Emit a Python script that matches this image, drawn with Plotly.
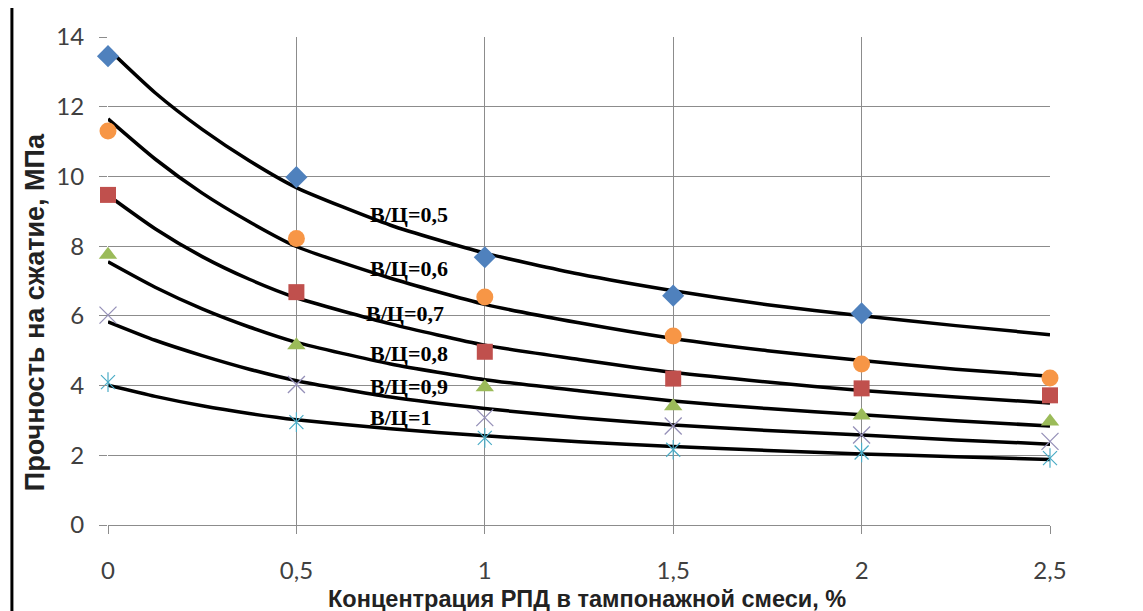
import plotly.graph_objects as go

# ---------------- data ----------------
x_pts = [0, 0.5, 1, 1.5, 2, 2.5]
tick_vals = [0, 0.5, 1, 1.5, 2, 2.5]
tick_text = ["0", "0,5", "1", "1,5", "2", "2,5"]
y_tick_vals = [0, 2, 4, 6, 8, 10, 12, 14]

wc_labels = ["В/Ц=0,5", "В/Ц=0,6", "В/Ц=0,7", "В/Ц=0,8", "В/Ц=0,9", "В/Ц=1"]

# measured points
pts_05 = [13.45, 9.98, 7.68, 6.58, 6.07, None]
pts_06 = [11.3, 8.22, 6.54, 5.42, 4.62, 4.22]
pts_07 = [9.47, 6.68, 4.97, 4.2, 3.92, 3.72]
pts_08 = [7.75, 5.16, 3.95, 3.41, 3.14, 2.97]
pts_09 = [6.02, 4.03, 3.08, 2.84, 2.58, 2.40]
pts_10 = [4.1, 2.95, 2.5, 2.16, 2.08, 1.92]

# trend curves
x_curve = [0, 0.125, 0.25, 0.375, 0.5, 0.75, 1, 1.25, 1.5, 1.75, 2, 2.25, 2.5]
cur_05 = [13.66, 12.4, 11.35, 10.45, 9.68, 8.6, 7.8, 7.2, 6.72, 6.32, 6.0, 5.72, 5.46]
cur_06 = [11.65, 10.5, 9.52, 8.7, 7.99, 7.08, 6.33, 5.8, 5.35, 5.0, 4.72, 4.47, 4.27]
cur_07 = [9.46, 8.5, 7.7, 7.05, 6.52, 5.77, 5.16, 4.75, 4.38, 4.1, 3.86, 3.67, 3.5]
cur_08 = [7.55, 6.82, 6.2, 5.68, 5.24, 4.62, 4.17, 3.85, 3.56, 3.34, 3.16, 2.99, 2.84]
cur_09 = [5.83, 5.3, 4.86, 4.47, 4.14, 3.67, 3.34, 3.08, 2.87, 2.71, 2.58, 2.44, 2.32]
cur_10 = [4.01, 3.69, 3.42, 3.2, 3.02, 2.76, 2.56, 2.39, 2.25, 2.14, 2.04, 1.96, 1.88]

# label anchor positions (x, y in data units)
label_x = [0.69, 0.69, 0.68, 0.69, 0.69, 0.69]
label_y = [8.91, 7.36, 6.08, 4.93, 3.98, 3.07]

# ---------------- figure ----------------
fig = go.Figure()

curves = [cur_05, cur_06, cur_07, cur_08, cur_09, cur_10]
for c in curves:
    fig.add_trace(go.Scatter(x=x_curve, y=c, mode="lines",
                             line=dict(color="black", width=3.5, shape="spline", smoothing=0.6),
                             hoverinfo="skip", showlegend=False, cliponaxis=False))

def mk(y, symbol, color, size, lw=0, lc=None):
    m = dict(symbol=symbol, color=color, size=size)
    m["line"] = dict(width=lw, color=lc if lc else color)
    fig.add_trace(go.Scatter(x=x_pts, y=y, mode="markers", marker=m,
                             showlegend=False, cliponaxis=False))

mk(pts_05, "diamond", "#4F81BD", 17)
mk(pts_06, "circle", "#F79646", 17)
mk(pts_07, "square", "#C0504D", 16)
mk(pts_08, "triangle-up", "#9BBB59", 16)
mk(pts_09, "x-thin-open", "#9590B8", 17, lw=1.3)
mk(pts_10, "x-thin-open", "#4BACC6", 14, lw=1.2)
mk(pts_10, "line-ns-open", "#4BACC6", 14, lw=1.2)

for txt, lx, ly in zip(wc_labels, label_x, label_y):
    fig.add_annotation(x=lx, y=ly, text="<b>" + txt + "</b>", showarrow=False,
                       xanchor="left", yanchor="middle",
                       font=dict(family="Liberation Serif", size=22, color="black"))

fig.add_annotation(x=0.509, y=-0.152, xref="paper", yref="paper", showarrow=False,
                   xanchor="center", yanchor="middle",
                   text="<b>Концентрация РПД в тампонажной смеси, %</b>",
                   font=dict(family="Liberation Sans", size=23.5, color="#222222"))
fig.add_annotation(x=-0.0775, y=0.436, xref="paper", yref="paper", showarrow=False, textangle=-90,
                   xanchor="center", yanchor="middle",
                   text="<b>Прочность на сжатие, МПа</b>",
                   font=dict(family="Liberation Sans", size=27, color="#222222"))

# left black border line of the original scan
fig.add_shape(type="line", xref="paper", yref="paper", x0=-0.102, x1=-0.102, y0=1.06, y1=-0.2,
              line=dict(color="black", width=3))

fig.update_xaxes(range=[0, 2.5], tickvals=tick_vals, ticktext=tick_text,
                 showgrid=True, gridcolor="#8C8C8C", gridwidth=1,
                 ticks="outside", ticklen=8, tickcolor="#8C8C8C",
                 showline=False, zeroline=False, ticklabelstandoff=16,
                 tickfont=dict(family="Lato", size=24, color="#404040"))
fig.update_yaxes(range=[0, 14], tickvals=y_tick_vals,
                 showgrid=True, gridcolor="#8C8C8C", gridwidth=1,
                 ticks="outside", ticklen=8, tickcolor="#8C8C8C",
                 showline=False, zeroline=True, zerolinecolor="#8C8C8C", zerolinewidth=1,
                 ticklabelstandoff=10,
                 tickfont=dict(family="Lato", size=24, color="#404040"))

fig.update_layout(width=1143, height=611, plot_bgcolor="white", paper_bgcolor="white",
                  margin=dict(l=100, r=101, t=29, b=94, autoexpand=False), showlegend=False)

fig.write_html("out.html")
